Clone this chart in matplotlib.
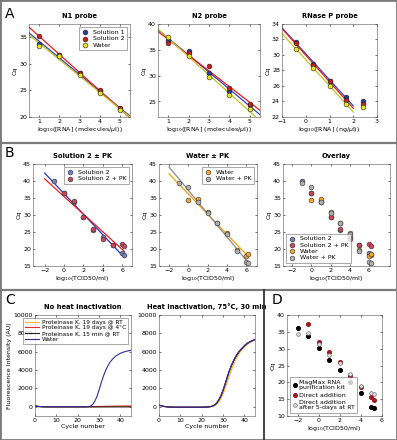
import numpy as np
import matplotlib.pyplot as plt
from matplotlib.lines import Line2D
from matplotlib.patches import Rectangle

# ---- data ----
# panel A
conc_a = [1, 2, 3, 4, 5]
n1_sol1 = [33.8, 31.6, 28.2, 24.9, 21.5]
n1_sol2 = [35.3, 31.7, 28.3, 25.0, 21.6]
n1_water = [33.3, 31.5, 27.9, 24.6, 21.3]
n2_sol1 = [36.9, 34.7, 30.5, 27.0, 24.3]
n2_sol2 = [36.4, 34.3, 31.8, 27.6, 24.5]
n2_water = [37.4, 33.9, 29.7, 26.2, 23.5]
conc_rnase = [-0.4, 0.3, 1.0, 1.7, 2.4]
rn_sol1 = [31.7, 28.9, 26.7, 24.6, 24.1]
rn_sol2 = [31.5, 28.7, 26.6, 24.2, 23.7]
rn_water = [30.8, 28.3, 26.0, 23.7, 23.3]

# panel B
tcid_b = [-1, 0, 1, 2, 3, 4, 5, 6, 6.2]
b_sol2 = [40.0, 36.6, 33.8, 29.5, 25.5, 23.5, 21.2, 18.8, 18.3]
b_sol2_pk = [np.nan, 36.6, 34.2, 29.4, 26.0, 23.0, 21.2, 21.6, 20.8]
b_water = [np.nan, 34.5, 34.6, 30.8, 27.7, 24.7, 19.8, 18.0, 18.4]
b_water_pk = [39.3, 38.1, 33.8, 30.7, 27.6, 24.3, 19.4, 16.2, 15.8]

# panel C (fluorescence per cycle, cycles 0..45)
cycles = list(range(46))
c_no_water = [80, 40, 20, 10, 0, 0, 0, 0, 0, 0, 0, 0, 0, 0, 0, 0, 0, 0, 0, 0,
              0, 0, 0, 0, 0, 20, 80, 250, 600, 1100, 1800, 2600, 3300, 3900, 4400, 4800,
              5100, 5350, 5550, 5700, 5820, 5920, 6000, 6060, 6110, 6150]
c_no_rt = [60, 40, 20, 10, 5, 0, 0, 0, 0, 0, 0, 0, 0, 0, 0, 0, 0, 0, 0, 0,
           0, 0, 0, 0, 0, 0, 0, 0, 0, 10, 10, 20, 20, 20, 30, 30, 30, 30, 40, 40,
           40, 40, 50, 50, 50, 50]
c_no_4c = [90, 60, 30, 20, 10, 10, 10, 10, 10, 10, 10, 10, 10, 10, 10, 10, 10, 10, 10, 10,
           10, 10, 10, 10, 20, 20, 20, 30, 30, 30, 40, 40, 50, 50, 60, 60, 60, 70, 70, 70,
           80, 80, 80, 90, 90, 90]
c_no_15 = [110, 70, 40, 20, 0, -10, -10, -10, -10, -10, -10, -10, -10, -10, -10, -10, -10, -10, -10, -10,
           -10, -10, -10, -10, -10, -10, -10, -10, -10, -10, -10, -10, -10, -10, -10, -10, -10, -10, -10, -10,
           -10, -10, -10, -10, -10, -10]
c_heat_water = [200, 120, 60, 20, 0, -20, -30, -40, -40, -40, -40, -40, -40, -40, -40, -40, -40, -40, -40, -40,
                -40, -35, -25, -10, 20, 80, 190, 400, 750, 1200, 1800, 2500, 3250, 3950, 4550, 5050,
                5500, 5850, 6150, 6400, 6650, 6850, 7000, 7130, 7230, 7320]
c_heat_rt = [180, 110, 50, 10, -10, -30, -40, -50, -50, -50, -50, -50, -50, -50, -50, -50, -50, -50, -50, -50,
             -50, -45, -40, -30, -10, 30, 110, 260, 520, 900, 1400, 2000, 2700, 3400, 4050, 4650,
             5150, 5600, 5950, 6250, 6500, 6720, 6900, 7050, 7180, 7280]
c_heat_4c = [190, 115, 55, 15, -5, -25, -35, -45, -45, -45, -45, -45, -45, -45, -45, -45, -45, -45, -45, -45,
             -45, -38, -28, -12, 15, 70, 175, 380, 720, 1160, 1750, 2440, 3180, 3880, 4480, 5000,
             5450, 5820, 6120, 6380, 6630, 6830, 6990, 7120, 7220, 7310]
c_heat_15 = [200, 120, 60, 20, 0, -20, -30, -40, -40, -40, -40, -40, -40, -40, -40, -40, -40, -40, -40, -40,
             -40, -35, -25, -10, 20, 80, 185, 395, 740, 1190, 1790, 2490, 3240, 3940, 4540, 5040,
             5490, 5840, 6140, 6390, 6640, 6840, 6990, 7130, 7230, 7320]
c_labels = ['Proteinase K, 19 days @ RT', 'Proteinase K, 19 days @ 4°C',
            'Proteinase K, 15 min @ RT', 'Water']

# panel D
tcid_d = [-2, -1, 0, 1, 2, 3, 4, 5, 5.2]
d_magmax = [36.1, 33.8, 30.2, 26.6, 23.6, 20.1, 16.8, 12.6, 12.3]
d_direct = [np.nan, 37.3, 32.0, 29.0, 26.0, 22.0, 18.6, 15.6, 14.7]
d_direct_5d = [34.4, 34.7, 31.4, 28.1, 25.7, 22.4, 18.9, 16.8, 16.5]

W, H = 397, 440
fig = plt.figure(figsize=(W / 100, H / 100), dpi=100)
plt.rcParams['font.family'] = ['DejaVu Sans']
FS = 4.5


def px_axes(l, t, r, b):
    return fig.add_axes([l / W, 1 - b / H, (r - l) / W, (b - t) / H])


def style(ax, title=None, xlabel=None, ylabel=None):
    ax.tick_params(labelsize=FS, length=1.5, width=0.4, direction='in', pad=1.5,
                   top=True, right=True)
    for s in ax.spines.values():
        s.set_linewidth(0.4)
        s.set_color('#555555')
    if title:
        ax.set_title(title, fontsize=FS + 0.4, fontweight='bold', pad=4)
    if xlabel:
        ax.set_xlabel(xlabel, fontsize=FS, labelpad=1)
    if ylabel:
        ax.set_ylabel(ylabel, fontsize=FS, labelpad=1)


def leg(ax, **kw):
    opts = dict(fontsize=FS, frameon=True, fancybox=False, borderpad=0.4,
                handletextpad=0.6, labelspacing=0.15, handlelength=1.2)
    opts.update(kw)
    lg = ax.legend(**opts)
    lg.get_frame().set_linewidth(0.4)
    lg.get_frame().set_edgecolor('#444444')
    return lg


def fit_line(x, y, xs):
    x = np.asarray(x, float)
    y = np.asarray(y, float)
    ok = ~np.isnan(y)
    p = np.polyfit(x[ok], y[ok], 1)
    return np.polyval(p, xs)


A_COLS = [('#25409a', '#2a46d0'), ('#c81e1e', '#ee1c1c'), ('#e8e61c', '#c9c41a')]
A_NAMES = ['Solution 1', 'Solution 2', 'Water']


def panel_a(ax, x, series, xline):
    for (mc, lc), ys in zip(A_COLS, series):
        ax.plot(xline, fit_line(x, ys, xline), color=lc, lw=0.9)
    for (mc, lc), ys, nm in zip(A_COLS, series, A_NAMES):
        ax.scatter(x, ys, s=12, color=mc, edgecolor='#222222', linewidth=0.4, zorder=3, label=nm)


xlab_a = r'log$_{10}$([RNA] (molecules/$\mu$l))'
ax = px_axes(29, 24, 130, 117)
xl = np.array([0.5, 5.5])
panel_a(ax, conc_a, [n1_sol1, n1_sol2, n1_water], xl)
ax.set_xlim(0.5, 5.5)
ax.set_ylim(20, 37.5)
ax.set_xticks([1, 2, 3, 4, 5])
ax.set_yticks([20, 25, 30, 35])
style(ax, 'N1 probe', xlab_a, 'Cq')
leg(ax, loc='upper right')

ax = px_axes(158, 24, 260, 117)
panel_a(ax, conc_a, [n2_sol1, n2_sol2, n2_water], xl)
ax.set_xlim(0.5, 5.5)
ax.set_ylim(22, 40)
ax.set_xticks([1, 2, 3, 4, 5])
ax.set_yticks([25, 30, 35, 40])
style(ax, 'N2 probe', xlab_a, 'Cq')

ax = px_axes(282, 24, 377, 117)
xr = np.array([-1, 2])
for (mc, lc), ys in zip(A_COLS, [rn_sol1, rn_sol2, rn_water]):
    ax.plot(xr, fit_line(conc_rnase[:4], ys[:4], xr), color=lc, lw=0.9)
for (mc, lc), ys in zip(A_COLS, [rn_sol1, rn_sol2, rn_water]):
    ax.scatter(conc_rnase, ys, s=12, color=mc, edgecolor='#222222', linewidth=0.4, zorder=3)
ax.set_xlim(-1, 3)
ax.set_ylim(22, 34)
ax.set_yticks([22, 24, 26, 28, 30, 32, 34])
style(ax, 'RNase P probe', r'log$_{10}$([RNA] (ng/$\mu$l))', 'Cq')

# panel B
B_SOL2 = ('#6f7fc4', '#2236c8')
B_SOL2PK = ('#c8485a', '#ee1c1c')
B_WAT = ('#f0a530', '#f5a000')
B_WATPK = ('#b0b0b0', '#8c8c8c')
xlab_b = r'log$_{10}$(TCID50/ml)'
xb = np.array([-2, 6.2])


def panel_b(ax, groups):
    for (mc, lc), ys, nm in groups:
        ax.plot(xb, fit_line(tcid_b, ys, xb), color=lc, lw=0.9)
    for (mc, lc), ys, nm in groups:
        ax.scatter(tcid_b, ys, s=12, color=mc, edgecolor='#333333', linewidth=0.4, zorder=3, label=nm)


ax = px_axes(33, 164, 132, 266)
panel_b(ax, [(B_SOL2, b_sol2, 'Solution 2'), (B_SOL2PK, b_sol2_pk, 'Solution 2 + PK')])
ax.set_xlim(-3.2, 7)
ax.set_ylim(15, 45)
ax.set_xticks([-2, 0, 2, 4, 6])
style(ax, 'Solution 2 ± PK', xlab_b, 'Cq')
leg(ax, loc='upper right')

ax = px_axes(159, 164, 257, 266)
panel_b(ax, [(B_WAT, b_water, 'Water'), (B_WATPK, b_water_pk, 'Water + PK')])
ax.set_xlim(-3.05, 7.1)
ax.set_ylim(15, 45)
ax.set_xticks([-2, 0, 2, 4, 6])
style(ax, 'Water ± PK', xlab_b, 'Cq')
leg(ax, loc='upper right')

ax = px_axes(283, 164, 390, 266)
for (mc, lc), ys, nm in [(B_SOL2, b_sol2, 'Solution 2'), (B_SOL2PK, b_sol2_pk, 'Solution 2 + PK'),
                         (B_WAT, b_water, 'Water'), (B_WATPK, b_water_pk, 'Water + PK')]:
    ax.scatter(tcid_b, ys, s=12, color=mc, edgecolor='#333333', linewidth=0.4, zorder=3, label=nm)
ax.set_xlim(-2.95, 8.2)
ax.set_ylim(15, 45)
ax.set_xticks([-2, 0, 2, 4, 6])
style(ax, 'Overlay', xlab_b, 'Cq')
leg(ax, loc='lower left')

# panel C
C_COLS = ['#ffb428', '#e8282d', '#222222', '#2b2f9c']
ax = px_axes(35, 315, 131, 416)
for ys, c, nm in zip([c_no_rt, c_no_4c, c_no_15, c_no_water], C_COLS, c_labels):
    ax.plot(cycles, ys, color=c, lw=0.8, label=nm)
ax.set_xlim(0, 45)
ax.set_ylim(-1000, 10000)
ax.set_yticks(range(0, 10001, 2000))
style(ax, 'No heat inactivation', 'Cycle number', 'Fluorescence Intensity (AU)')
leg(ax, loc='upper right', handlelength=2.4, fontsize=4.2, borderpad=0.3, labelspacing=0.1)

ax = px_axes(159, 315, 255, 416)
for ys, c in zip([c_heat_rt, c_heat_4c, c_heat_15, c_heat_water], C_COLS):
    ax.plot(cycles, ys, color=c, lw=0.8)
ax.set_xlim(0, 45)
ax.set_ylim(-1000, 10000)
ax.set_yticks(range(0, 10001, 2000))
style(ax, 'Heat inactivation, 75°C, 30 min', 'Cycle number')

# panel D
ax = px_axes(287, 315, 382, 416)
ax.scatter(tcid_d, d_magmax, s=7, color='black', zorder=3,
           label='MagMax RNA\npurification kit')
ax.scatter(tcid_d, d_direct, s=7, color='#a0191e', zorder=3, label='Direct addition')
ax.scatter(tcid_d, d_direct_5d, s=7, color='#e0e0e0', edgecolor='#555555', linewidth=0.4,
           zorder=3, label='Direct addition\nafter 5-days at RT')
ax.set_xlim(-3, 6)
ax.set_ylim(10, 40)
ax.set_xticks([-2, 0, 2, 4, 6])
style(ax, None, xlab_b, 'Cq')
lg = leg(ax, loc='lower left', handletextpad=0.2, handlelength=0.8, labelspacing=0.3)

# panel letters
for lt, x, y in [('A', 5, 18), ('B', 5, 157), ('C', 5, 304), ('D', 272, 304)]:
    fig.text(x / W, 1 - y / H, lt, fontsize=10, va='baseline')

# separators and frame
gray = '#7a7a7a'
fig.add_artist(Line2D([0, 1], [1 - 143 / H] * 2, color=gray, lw=1.6, transform=fig.transFigure))
fig.add_artist(Line2D([0, 1], [1 - 290 / H] * 2, color=gray, lw=1.6, transform=fig.transFigure))
fig.add_artist(Line2D([264 / W] * 2, [0, 1 - 290 / H], color='#222222', lw=1.2, transform=fig.transFigure))
fig.add_artist(Rectangle((0, 0), 1, 1, fill=False, edgecolor=gray, lw=2, transform=fig.transFigure))

fig.savefig('out.png', dpi=100)
